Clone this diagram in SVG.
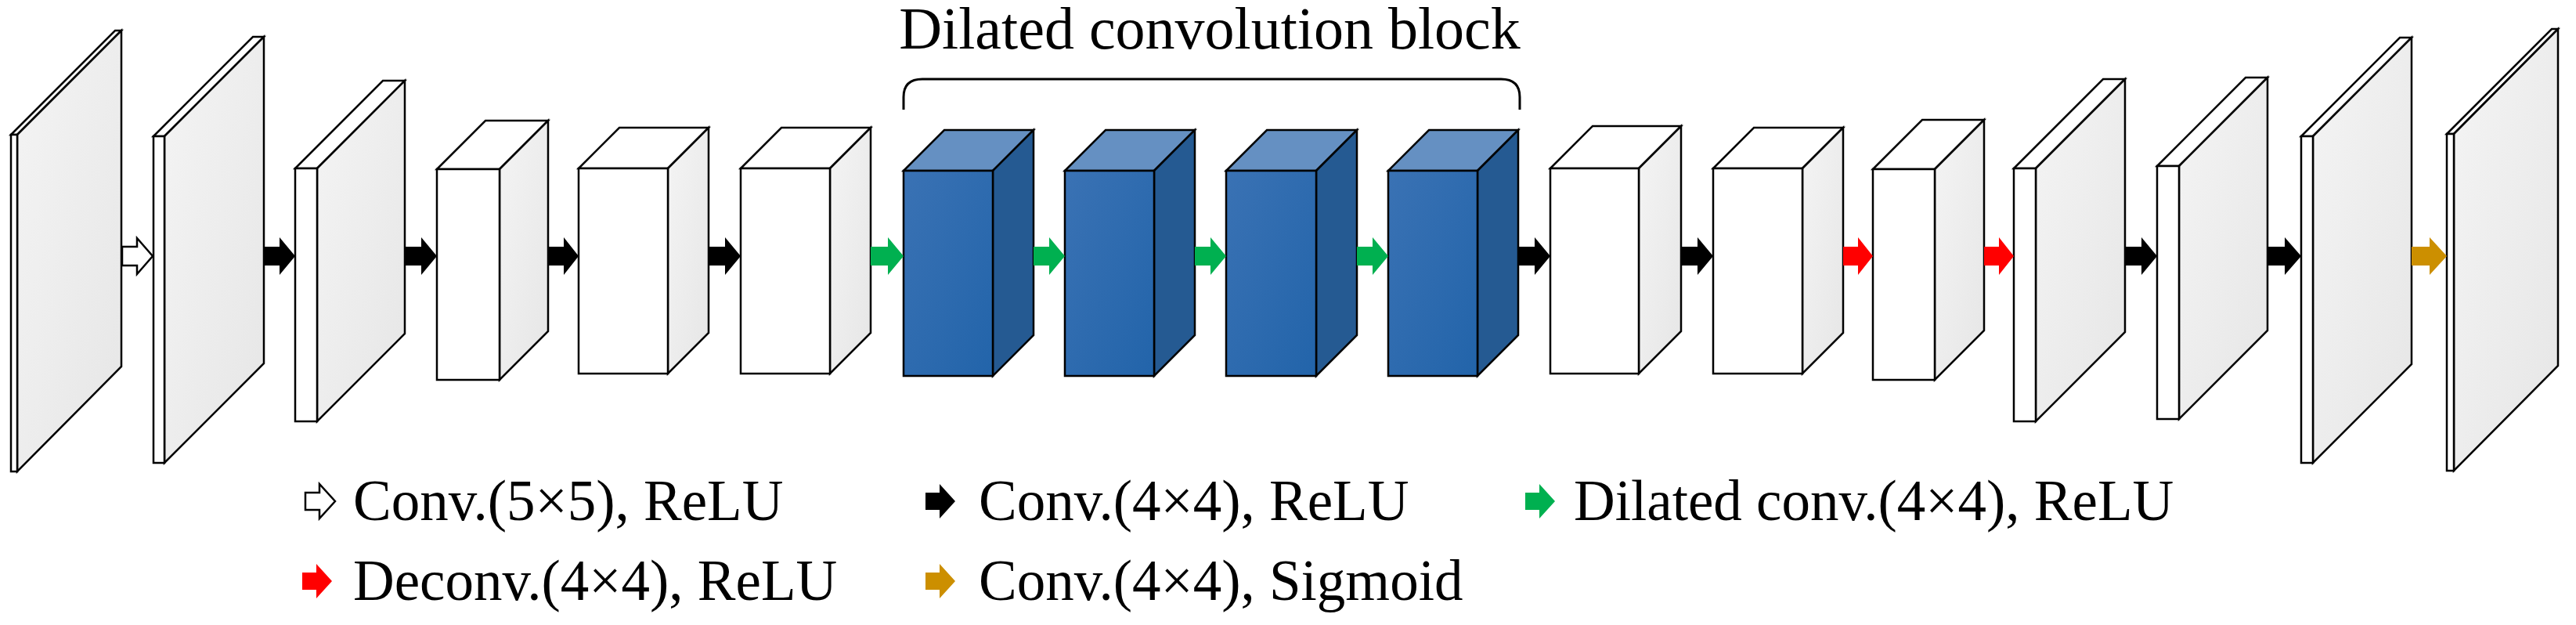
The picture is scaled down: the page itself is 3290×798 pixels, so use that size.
<svg xmlns="http://www.w3.org/2000/svg" width="3290" height="798" viewBox="0 0 3290 798">
<defs>
<linearGradient id="gs" x1="0" y1="0" x2="1" y2="1"><stop offset="0" stop-color="#f4f4f4"/><stop offset="1" stop-color="#e6e6e6"/></linearGradient>
<linearGradient id="gb" x1="0" y1="0" x2="1" y2="1"><stop offset="0" stop-color="#3a72b4"/><stop offset="1" stop-color="#2264aa"/></linearGradient>
</defs>
<style>
.f{fill:#fff;stroke:#000;stroke-width:2.5;stroke-linejoin:miter}
.s{fill:url(#gs);stroke:#000;stroke-width:2.5}
.bf{fill:url(#gb);stroke:#000;stroke-width:2.5}
.bt{fill:#6590c2;stroke:#000;stroke-width:2.5}
.bs{fill:#255a92;stroke:#000;stroke-width:2.5}
.aw{fill:#fff;stroke:#000;stroke-width:2.5}
.ak{fill:#000}.ag{fill:#00b050}.ar{fill:#ff0000}.ao{fill:#cc8f00}
text{font-family:"Liberation Serif","Times New Roman",serif;fill:#000}
.lg{font-size:73px}
</style>
<g id="node1"><polygon class="f" points="14,172 147,39 155,39 22,172"/><polygon class="s" points="22,172 155,39 155,468 22,602"/><rect class="f" x="14" y="172" width="8" height="430"/></g>
<g id="node2"><polygon class="f" points="196,174 323,47 337,47 210,174"/><polygon class="s" points="210,174 337,47 337,464 210,591"/><rect class="f" x="196" y="174" width="14" height="417"/></g>
<g id="node3"><polygon class="f" points="377,215 489,103 517,103 405,215"/><polygon class="s" points="405,215 517,103 517,426 405,538"/><rect class="f" x="377" y="215" width="28" height="323"/></g>
<g id="node4"><polygon class="f" points="558,216 620,154 700,154 638,216"/><polygon class="s" points="638,216 700,154 700,423 638,485"/><rect class="f" x="558" y="216" width="80" height="269"/></g>
<g id="node5"><polygon class="f" points="739,215 791,163 905,163 853,215"/><polygon class="s" points="853,215 905,163 905,425 853,477"/><rect class="f" x="739" y="215" width="114" height="262"/></g>
<g id="node6"><polygon class="f" points="946,215 998,163 1112,163 1060,215"/><polygon class="s" points="1060,215 1112,163 1112,425 1060,477"/><rect class="f" x="946" y="215" width="114" height="262"/></g>
<g id="dil1"><polygon class="bt" points="1154,218 1206,166 1320,166 1268,218"/><polygon class="bs" points="1268,218 1320,166 1320,428 1268,480"/><rect class="bf" x="1154" y="218" width="114" height="262"/></g>
<g id="dil2"><polygon class="bt" points="1360,218 1412,166 1526,166 1474,218"/><polygon class="bs" points="1474,218 1526,166 1526,428 1474,480"/><rect class="bf" x="1360" y="218" width="114" height="262"/></g>
<g id="dil3"><polygon class="bt" points="1566,218 1618,166 1733,166 1681,218"/><polygon class="bs" points="1681,218 1733,166 1733,428 1681,480"/><rect class="bf" x="1566" y="218" width="115" height="262"/></g>
<g id="dil4"><polygon class="bt" points="1773,218 1825,166 1939,166 1887,218"/><polygon class="bs" points="1887,218 1939,166 1939,428 1887,480"/><rect class="bf" x="1773" y="218" width="114" height="262"/></g>
<g id="node7"><polygon class="f" points="1980,215 2034,161 2147,161 2093,215"/><polygon class="s" points="2093,215 2147,161 2147,423 2093,477"/><rect class="f" x="1980" y="215" width="113" height="262"/></g>
<g id="node8"><polygon class="f" points="2188,215 2240,163 2354,163 2302,215"/><polygon class="s" points="2302,215 2354,163 2354,425 2302,477"/><rect class="f" x="2188" y="215" width="114" height="262"/></g>
<g id="node9"><polygon class="f" points="2392,216 2455,153 2534,153 2471,216"/><polygon class="s" points="2471,216 2534,153 2534,422 2471,485"/><rect class="f" x="2392" y="216" width="79" height="269"/></g>
<g id="node10"><polygon class="f" points="2572,215 2686,101 2714,101 2600,215"/><polygon class="s" points="2600,215 2714,101 2714,424 2600,538"/><rect class="f" x="2572" y="215" width="28" height="323"/></g>
<g id="node11"><polygon class="f" points="2755,212 2868,99 2896,99 2783,212"/><polygon class="s" points="2783,212 2896,99 2896,422 2783,535"/><rect class="f" x="2755" y="212" width="28" height="323"/></g>
<g id="node12"><polygon class="f" points="2939,174 3065,48 3080,48 2954,174"/><polygon class="s" points="2954,174 3080,48 3080,465 2954,591"/><rect class="f" x="2939" y="174" width="15" height="417"/></g>
<g id="node13"><polygon class="f" points="3125,171 3259,37 3267,37 3134,171"/><polygon class="s" points="3134,171 3267,37 3267,467 3134,601"/><rect class="f" x="3125" y="171" width="9" height="430"/></g>
<g id="connectors">
<polygon class="aw" points="156,315 175,315 175,304 195,327 175,350 175,339 156,339"/>
<polygon class="ak" points="337,315 357,315 357,303 377,327 357,351 357,339 337,339"/>
<polygon class="ak" points="517,315 538,315 538,303 558,327 538,351 538,339 517,339"/>
<polygon class="ak" points="700,315 720,315 720,303 739,327 720,351 720,339 700,339"/>
<polygon class="ak" points="905,315 926,315 926,303 946,327 926,351 926,339 905,339"/>
<polygon class="ag" points="1112,315 1134,315 1134,303 1154,327 1134,351 1134,339 1112,339"/>
<polygon class="ag" points="1320,315 1340,315 1340,303 1360,327 1340,351 1340,339 1320,339"/>
<polygon class="ag" points="1526,315 1546,315 1546,303 1566,327 1546,351 1546,339 1526,339"/>
<polygon class="ag" points="1733,315 1753,315 1753,303 1773,327 1753,351 1753,339 1733,339"/>
<polygon class="ak" points="1939,315 1960,315 1960,303 1980,327 1960,351 1960,339 1939,339"/>
<polygon class="ak" points="2147,315 2168,315 2168,303 2188,327 2168,351 2168,339 2147,339"/>
<polygon class="ar" points="2354,315 2373,315 2373,303 2392,327 2373,351 2373,339 2354,339"/>
<polygon class="ar" points="2534,315 2553,315 2553,303 2572,327 2553,351 2553,339 2534,339"/>
<polygon class="ak" points="2714,315 2735,315 2735,303 2755,327 2735,351 2735,339 2714,339"/>
<polygon class="ak" points="2896,315 2918,315 2918,303 2939,327 2918,351 2918,339 2896,339"/>
<polygon class="ao" points="3080,315 3103,315 3103,303 3125,327 3103,351 3103,339 3080,339"/>
</g>
<g id="block-label">
<path d="M1154,140 L1154,124 Q1154,101 1178,101 L1917,101 Q1941,101 1941,124 L1941,140" fill="none" stroke="#000" stroke-width="3"/>
<text x="1545" y="62" font-size="76" text-anchor="middle">Dilated convolution block</text>
</g>
<g id="legend">
<polygon class="aw" points="390,629 408,629 408,618 428,640 408,662 408,651 390,651"/>
<text class="lg" x="451" y="664">Conv.(5×5), ReLU</text>
<polygon class="ak" points="1182,629 1200,629 1200,618 1220,640 1200,662 1200,651 1182,651"/>
<text class="lg" x="1250" y="664">Conv.(4×4), ReLU</text>
<polygon class="ag" points="1948,629 1966,629 1966,618 1986,640 1966,662 1966,651 1948,651"/>
<text class="lg" x="2010" y="664">Dilated conv.(4×4), ReLU</text>
<polygon class="ar" points="386,731 404,731 404,720 424,742 404,764 404,753 386,753"/>
<text class="lg" x="451" y="766">Deconv.(4×4), ReLU</text>
<polygon class="ao" points="1182,731 1200,731 1200,720 1220,742 1200,764 1200,753 1182,753"/>
<text class="lg" x="1250" y="766">Conv.(4×4), Sigmoid</text>
</g>
</svg>
